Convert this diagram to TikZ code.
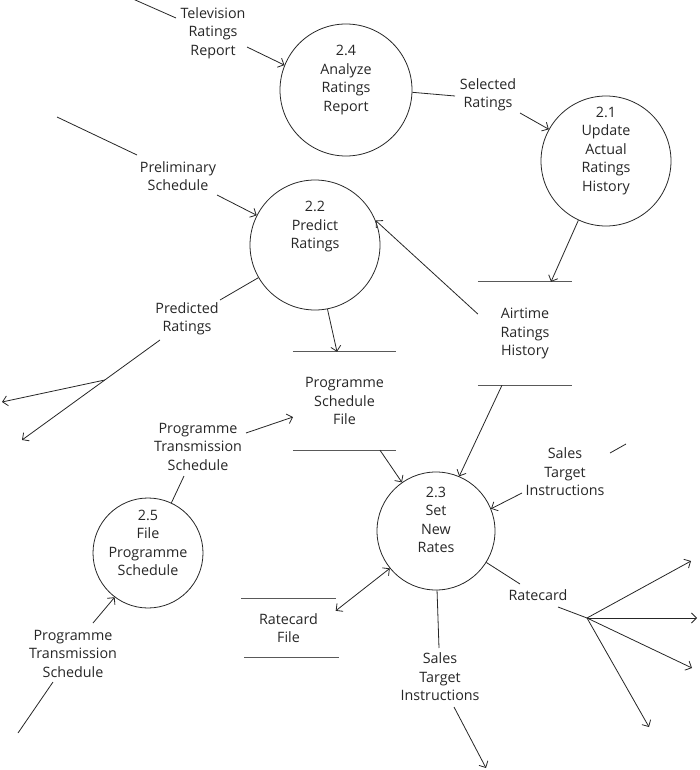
\documentclass[tikz,border=0pt]{standalone}
\usepackage{fontspec}
\setmainfont{Open Sans}
\usetikzlibrary{arrows.meta,calc}
\begin{document}
\begin{tikzpicture}[x=1pt,y=-1pt,
  proc/.style={draw=black!85,line width=0.8pt,circle,inner sep=0pt},
  txt/.style={align=center,inner sep=0pt,font=\fontsize{14.3}{18.5}\selectfont,text=black!85},
  store/.style={inner sep=0pt,align=center,font=\fontsize{14.3}{18.5}\selectfont,text=black!85},
  storeline/.style={draw=black!65,line width=1.3pt},
  ln/.style={draw=black!85,line width=0.8pt},
  flow/.style={ln,-{Straight Barb[length=5pt,width=10pt]}},
  flow2/.style={ln,{Straight Barb[length=5pt,width=10pt]}-{Straight Barb[length=5pt,width=10pt]}}]
\useasboundingbox (0,0) rectangle (700,770);

% processes
\node[proc,minimum size=132pt] (p24) at (346,90) {};
\node[txt] (t24) at ([yshift=10pt]p24.center) {2.4\\Analyze\\Ratings\\Report};
\node[proc,minimum size=130pt] (p21) at (606,161) {};
\node[txt] (t21) at ([yshift=10pt]p21.center) {2.1\\Update\\Actual\\Ratings\\History};
\node[proc,minimum size=130pt] (p22) at (315,245) {};
\node[txt] (t22) at ([yshift=18pt]p22.center) {2.2\\Predict\\Ratings};
\node[proc,minimum size=118pt] (p23) at (436,531) {};
\node[txt] (t23) at ([yshift=11pt]p23.center) {2.3\\Set\\New\\Rates};
\node[proc,minimum size=110pt] (p25) at (148,553) {};
\node[txt] (t25) at ([yshift=10pt]p25.center) {2.5\\File\\Programme\\Schedule};

% data stores
\node[store,minimum width=94pt,minimum height=103pt] (ah) at (525,333.5) {Airtime\\Ratings\\History};
\draw[storeline] (ah.north west) -- (ah.north east);
\draw[storeline] (ah.south west) -- (ah.south east);
\node[store,minimum width=103pt,minimum height=98pt] (psf) at (344.5,401) {Programme\\Schedule\\File};
\draw[storeline] (psf.north west) -- (psf.north east);
\draw[storeline] (psf.south west) -- (psf.south east);
\node[store,minimum width=94pt,minimum height=58pt] (rf) at (288.5,628) {Ratecard\\File};
\draw[storeline] (rf.north west) -- (rf.north east);
\draw[storeline] ([xshift=3pt]rf.south west) -- ([xshift=3pt]rf.south east);

% flow labels
\node[txt] (ltv) at (213,33) {Television\\Ratings\\Report};
\node[txt] (lsel) at (488,95) {Selected\\Ratings};
\node[txt] (lpre) at (178,176) {Preliminary\\Schedule};
\node[txt] (lpred) at (187,319) {Predicted\\Ratings};
\node[txt] (lpts1) at (198,446.5) {Programme\\Transmission\\Schedule};
\node[txt] (lpts2) at (73,653.5) {Programme\\Transmission\\Schedule};
\node[txt] (lsti1) at (565,472) {Sales\\Target\\Instructions};
\node[txt] (lrc) at (538,595) {Ratecard};
\node[txt] (lsti2) at (440,677) {Sales\\Target\\Instructions};

% free coordinates
\coordinate (tv0) at (133,-1);
\coordinate (tv1) at (176,18);
\coordinate (tv2) at (247,47);
\coordinate (se1) at (455,96);
\coordinate (se2) at (520,113);
\coordinate (pl0) at (57,117);
\coordinate (pl1) at (137,155);
\coordinate (pl2) at (217,195);
\coordinate (pd1) at (220,300);
\coordinate (pd2) at (160,340);
\coordinate (pd3) at (22,440);
\coordinate (pdb) at ($(pd2)!0.4!(pd3)$);
\coordinate (pd4) at (2,402);
\coordinate (pt1) at (184,476);
\coordinate (pt2) at (246,433);
\coordinate (pt3) at (293,417);
\coordinate (pq1) at (93,623);
\coordinate (pq2) at (53,682);
\coordinate (pq3) at (18,733);
\coordinate (st0) at (626,444);
\coordinate (st1) at (610,453);
\coordinate (st2) at (522,493);
\coordinate (rc1) at (520,584);
\coordinate (rc2) at (558,607);
\coordinate (rcb) at (587,618);
\coordinate (rca) at (691,561);
\coordinate (rcc) at (697,618);
\coordinate (rcd) at (692,668);
\coordinate (rce) at (649,727);
\coordinate (sl1) at (439,648);
\coordinate (sl2) at (454,707);
\coordinate (sl3) at (486,768);

% flows
\draw[ln] (tv0) -- (tv1);
\draw[flow] (tv2) -- (p24.158);
\draw[ln] (p24.-2) -- (se1);
\draw[flow] (se2) -- (p21.151);
\draw[flow] (p21.-115) -- ([xshift=26pt]ah.north);
\draw[ln] (pl0) -- (pl1);
\draw[flow] (pl2) -- (p22.153);
\draw[flow] ([yshift=19.5pt]ah.west) -- (p22.22);
\draw[flow] (p22.-79) -- ([xshift=-7.5pt]psf.north);
\draw[ln] (p22.-150) -- (pd1);
\draw[flow] (pd2) -- (pd3);
\draw[flow] (pdb) -- (pd4);
\draw[flow] ([xshift=35.5pt]psf.south) -- (p23.125);
\draw[flow] ([xshift=-23pt]ah.south) -- (p23.67);
\draw[ln] (st0) -- (st1);
\draw[flow] (st2) -- (p23.22);
\draw[flow2] (p23.-141) -- ([yshift=-12pt]rf.north east);
\draw[ln] (p23.-32) -- (rc1);
\draw[ln] (rc2) -- (rcb);
\draw[flow] (rcb) -- (rca);
\draw[flow] (rcb) -- (rcc);
\draw[flow] (rcb) -- (rcd);
\draw[flow] (rcb) -- (rce);
\draw[ln] (p23.-89) -- (sl1);
\draw[flow] (sl2) -- (sl3);
\draw[ln] (p25.65) -- (pt1);
\draw[flow] (pt2) -- (pt3);
\draw[flow] (pq1) -- (p25.-127);
\draw[ln] (pq2) -- (pq3);
\end{tikzpicture}
\end{document}
